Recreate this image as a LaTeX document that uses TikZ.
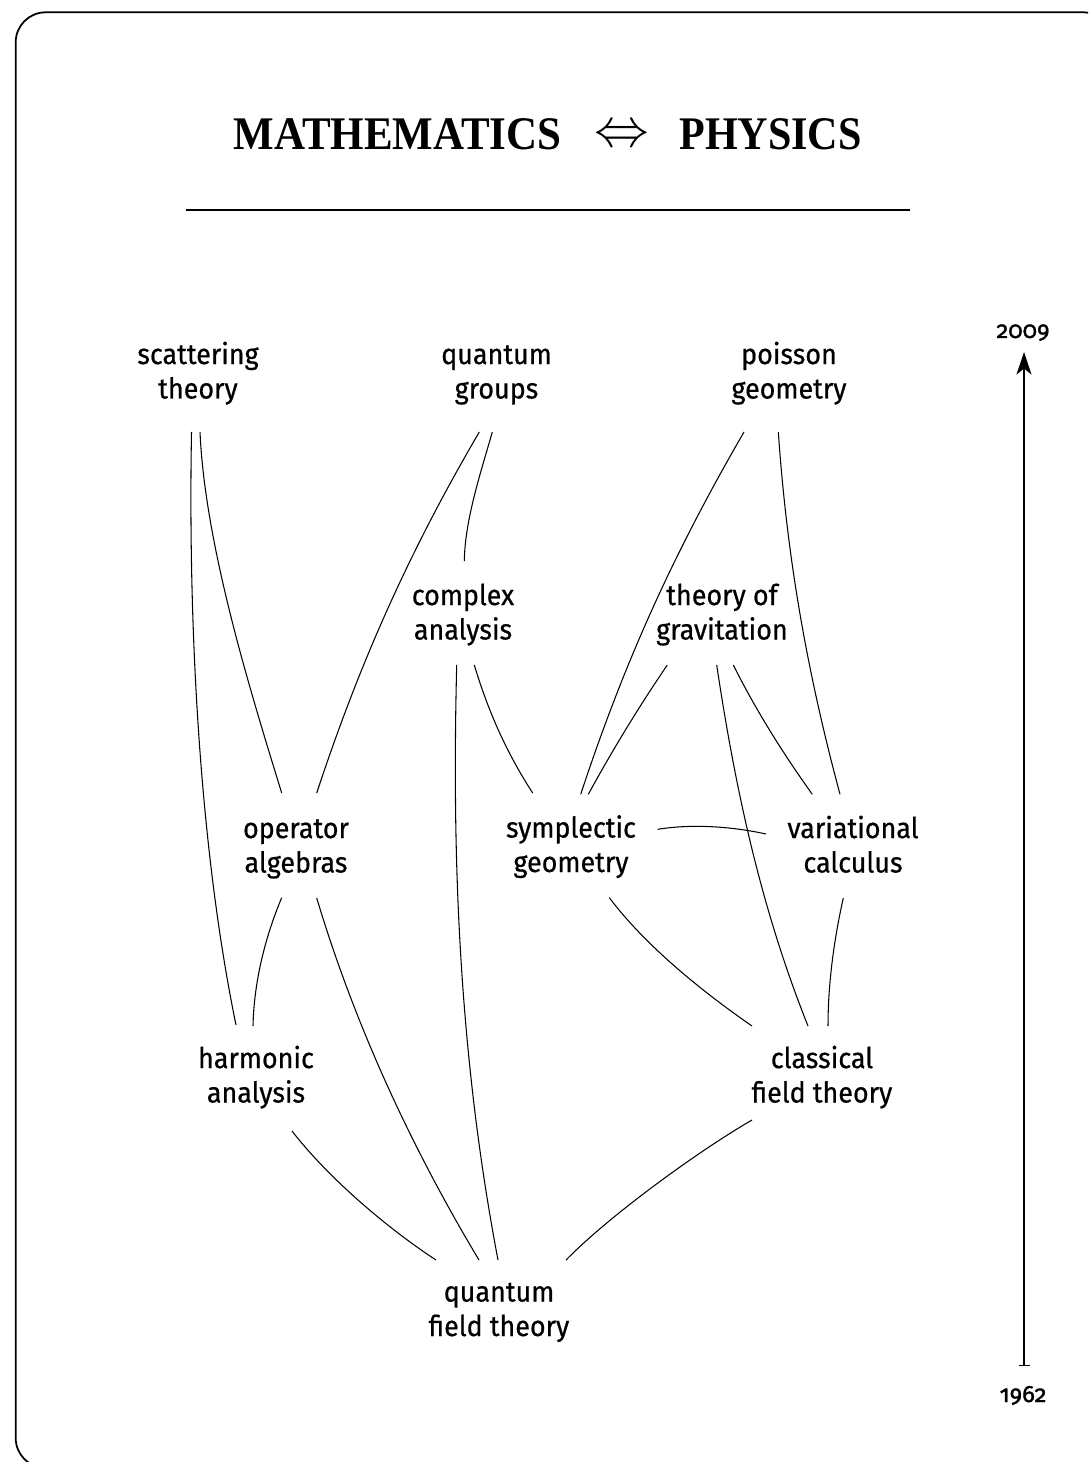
\documentclass[tikz,border=0pt]{standalone}
\usepackage{fontspec}
\setmainfont{Fira Sans}[FakeStretch=0.94,FakeBold=0.6]
\newfontfamily\titlefont{Liberation Serif}
\newfontfamily\numfont{Fira Sans}[Numbers=OldStyle,FakeBold=1.4]
\usetikzlibrary{arrows.meta}
\begin{document}
\begin{tikzpicture}[x=0.02cm,y=-0.02cm,
  lbl/.style={align=center,anchor=base,inner sep=0pt,font=\fontsize{16.3}{19.6}\selectfont},
  link/.style={line width=0.6pt},
  ttl/.style={inner sep=0pt,font=\titlefont\bfseries\fontsize{26.6}{30}\selectfont},
  yr/.style={anchor=base,inner sep=0pt,font=\numfont\fontsize{13.5}{15}\selectfont}]
\useasboundingbox (0,0) rectangle (1088,1462);
\begin{scope}
\clip (0,0) rectangle (1088,1462);
\draw[line width=1pt,rounded corners=0.6cm] (15.7,12.3) rectangle (1113,1468);
\end{scope}
% title
\node[ttl,anchor=base east] (tm) at (562,150) {\scalebox{0.92}[1]{MATHEMATICS}};
\node[ttl] (tarr) at (622,136) {\scalebox{1.25}{$\Leftrightarrow$}};
\node[ttl,anchor=base west] (tp) at (679,150) {\scalebox{0.9}[1]{PHYSICS}};
\coordinate (rl) at (186,210);
\coordinate (rr) at (910,210);
\draw[line width=0.9pt] (rl) -- (rr);
% time axis
\coordinate (ybot) at (1024,1366);
\coordinate (ytop) at (1024,352);
\draw[line width=0.8pt,{Bar[width=0.22cm]}-{Stealth[length=0.45cm,width=0.3cm,inset=0.12cm]}] (ybot) -- (ytop);
\node[yr] (y2009) at (1023,338) {2009};
\node[yr] (y1962) at (1023,1402) {1962};
% nodes (anchored at the baseline of their last line)
\node[lbl] (scat) at (198,398.5) {scattering\\theory};
\node[lbl] (qg) at (496.5,398.5) {quantum\\groups};
\node[lbl] (pois) at (789,398.5) {poisson\\geometry};
\node[lbl] (cplx) at (463,639.5) {complex\\analysis};
\node[lbl] (grav) at (722,639.5) {theory of\\gravitation};
\node[lbl] (oper) at (296,872.5) {operator\\algebras};
\node[lbl] (symp) at (571,872) {symplectic\\geometry};
\node[lbl] (var) at (853,872.5) {variational\\calculus};
\node[lbl] (harm) at (256,1102.5) {harmonic\\analysis};
\node[lbl] (clas) at (822,1102.5) {classical\\field theory};
\node[lbl] (qft) at (499,1336) {quantum\\field theory};
% links
\draw[link] ([shift={(-6.5,33.5)}]scat.base) .. controls (188,630) and (200,850) .. ([shift={(-20,-77.5)}]harm.base);
\draw[link] ([shift={(2,33.5)}]scat.base) .. controls (205,545) and (250,690) .. ([shift={(-14.3,-79.5)}]oper.base);
\draw[link] ([shift={(-17.2,33.5)}]qg.base) .. controls (409,552) and (359.6,663) .. ([shift={(20.7,-79.5)}]oper.base);
\draw[link] ([shift={(-4.2,33.5)}]qg.base) .. controls (480,475) and (465,520) .. ([shift={(1.3,-78.5)}]cplx.base);
\draw[link] ([shift={(-45,33.5)}]pois.base) .. controls (674.4,552) and (625,660) .. ([shift={(9.7,-77.7)}]symp.base);
\draw[link] ([shift={(-10.7,33.5)}]pois.base) .. controls (786.7,552) and (805,664) .. ([shift={(-13,-78.2)}]var.base);
\draw[link] ([shift={(-54.7,25.5)}]grav.base) .. controls (638,708) and (612,751) .. ([shift={(17.3,-77.7)}]symp.base);
\draw[link] ([shift={(11.3,25.5)}]grav.base) .. controls (754.8,708) and (781.3,751) .. ([shift={(-40.7,-78.2)}]var.base);
\draw[link] ([shift={(-5.3,25.5)}]grav.base) .. controls (734.7,785) and (760,906) .. ([shift={(-14,-76.5)}]clas.base);
\draw[link] ([shift={(11.3,25.5)}]cplx.base) .. controls (487.2,708) and (504.8,750) .. ([shift={(-38.3,-79)}]symp.base);
\draw[link] ([shift={(-6.3,25.5)}]cplx.base) .. controls (452,850) and (458,1050) .. ([shift={(-1,-76)}]qft.base);
\draw[link] ([shift={(86.7,-42.7)}]symp.base) .. controls (690,824) and (730,826) .. ([shift={(-87,-38.5)}]var.base);
\draw[link] ([shift={(38.3,25.7)}]symp.base) .. controls (645,945) and (700,990) .. ([shift={(-70,-76.5)}]clas.base);
\draw[link] ([shift={(-9.7,25.5)}]var.base) .. controls (835,935) and (828,980) .. ([shift={(6,-76.5)}]clas.base);
\draw[link] ([shift={(-14.3,25.2)}]oper.base) .. controls (266,935) and (254,980) .. ([shift={(-3,-76.5)}]harm.base);
\draw[link] ([shift={(20.7,25.5)}]oper.base) .. controls (352.7,1018) and (407,1140) .. ([shift={(-20,-76)}]qft.base);
\draw[link] ([shift={(36,28.5)}]harm.base) .. controls (330,1180) and (390,1230) .. ([shift={(-63,-76)}]qft.base);
\draw[link] ([shift={(-70,17.5)}]clas.base) .. controls (700,1150) and (610,1215) .. ([shift={(67,-76)}]qft.base);
\end{tikzpicture}
\end{document}
